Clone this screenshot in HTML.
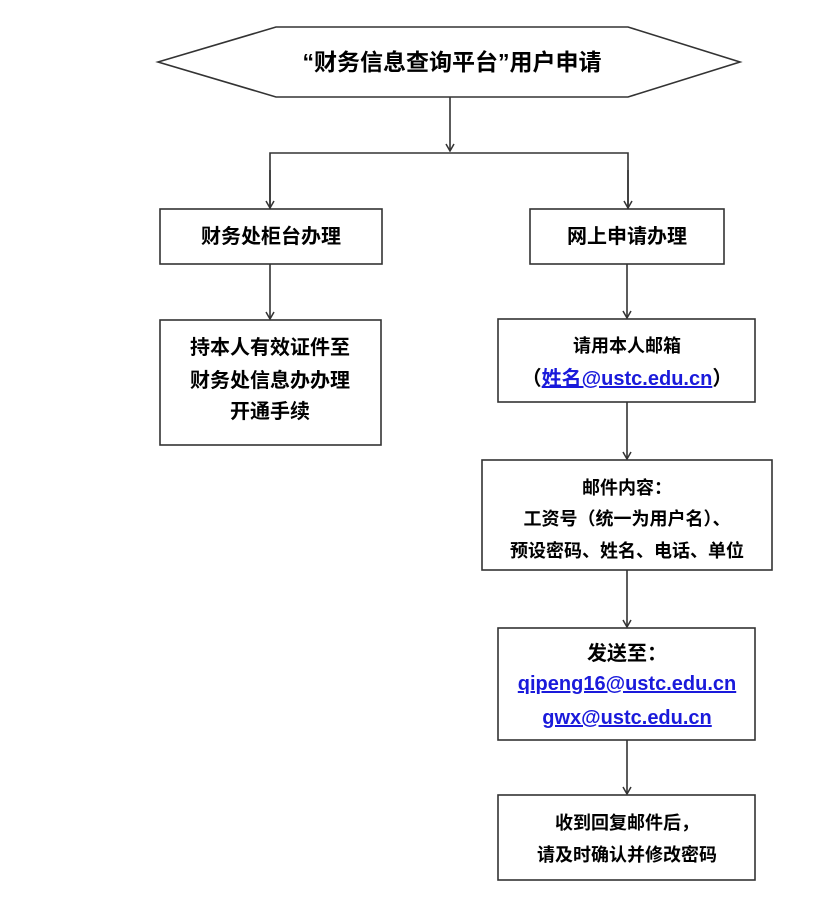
<!DOCTYPE html>
<html><head><meta charset="utf-8"><style>
html,body{margin:0;padding:0;background:#fff;}
svg text{font-family:"Liberation Sans","Noto Sans CJK SC",sans-serif;font-weight:bold;fill:#000;}
</style></head><body>
<svg width="831" height="907" viewBox="0 0 831 907" xmlns="http://www.w3.org/2000/svg">
<defs><marker id="a" markerWidth="10" markerHeight="10" refX="9" refY="5" orient="auto" markerUnits="userSpaceOnUse"><path d="M2,1 L9,5 L2,9" fill="none" stroke="#333" stroke-width="1.5"/></marker></defs>
<g stroke="#333" stroke-width="1.6" fill="none">
<polygon points="158,62 276,27 628,27 740,62 628,97 276,97" fill="#fff"/>
<line x1="450" y1="97" x2="450" y2="151" marker-end="url(#a)"/>
<polyline points="270,209 270,153 628,153 628,209"/>
<line x1="270" y1="170" x2="270" y2="208" marker-end="url(#a)"/>
<line x1="628" y1="170" x2="628" y2="208" marker-end="url(#a)"/>
<rect x="160" y="209" width="222" height="55"/>
<rect x="530" y="209" width="194" height="55"/>
<line x1="270" y1="264" x2="270" y2="319" marker-end="url(#a)"/>
<rect x="160" y="320" width="221" height="125"/>
<line x1="627" y1="264" x2="627" y2="318" marker-end="url(#a)"/>
<rect x="498" y="319" width="257" height="83"/>
<line x1="627" y1="402" x2="627" y2="459" marker-end="url(#a)"/>
<rect x="482" y="460" width="290" height="110"/>
<line x1="627" y1="570" x2="627" y2="627" marker-end="url(#a)"/>
<rect x="498" y="628" width="257" height="112"/>
<line x1="627" y1="740" x2="627" y2="794" marker-end="url(#a)"/>
<rect x="498" y="795" width="257" height="85"/>
</g>
<text x="452" y="70" font-size="23" text-anchor="middle">“财务信息查询平台”用户申请</text>
<text x="271" y="243" font-size="20" text-anchor="middle">财务处柜台办理</text>
<text x="627" y="243" font-size="20" text-anchor="middle">网上申请办理</text>
<text x="270" y="354" font-size="20" text-anchor="middle">持本人有效证件至</text>
<text x="270" y="387" font-size="20" text-anchor="middle">财务处信息办办理</text>
<text x="270" y="418" font-size="20" text-anchor="middle">开通手续</text>
<text x="627" y="352" font-size="18" text-anchor="middle">请用本人邮箱</text>
<text x="627" y="385" font-size="20" text-anchor="middle">（<tspan style="fill:#1a1adb" text-decoration="underline">姓名@ustc.edu.cn</tspan>）</text>
<text x="627" y="494" font-size="18" text-anchor="middle">邮件内容：</text>
<text x="627" y="525" font-size="18" text-anchor="middle">工资号（统一为用户名）、</text>
<text x="627" y="557" font-size="18" text-anchor="middle">预设密码、姓名、电话、单位</text>
<text x="627" y="660" font-size="20" text-anchor="middle">发送至：</text>
<text x="627" y="690" font-size="20" text-anchor="middle" style="fill:#1a1adb" text-decoration="underline">qipeng16@ustc.edu.cn</text>
<text x="627" y="724" font-size="20" text-anchor="middle" style="fill:#1a1adb" text-decoration="underline">gwx@ustc.edu.cn</text>
<text x="627" y="829" font-size="18" text-anchor="middle">收到回复邮件后，</text>
<text x="627" y="861" font-size="18" text-anchor="middle">请及时确认并修改密码</text>
</svg>
</body></html>
